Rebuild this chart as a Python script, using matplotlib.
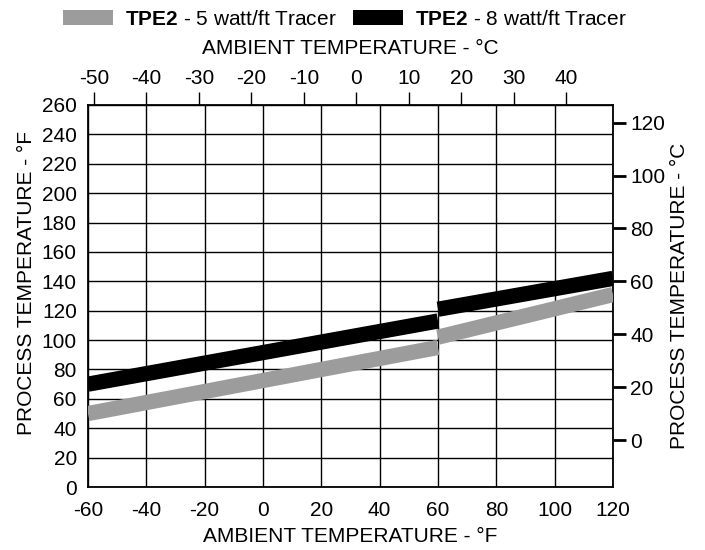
import matplotlib
matplotlib.use("Agg")
import matplotlib.pyplot as plt
from matplotlib.patches import Patch

plt.rcParams['font.family'] = ['Liberation Sans', 'DejaVu Sans']
plt.rcParams['mathtext.fontset'] = 'custom'
plt.rcParams['mathtext.rm'] = 'Liberation Sans'
plt.rcParams['mathtext.bf'] = 'Liberation Sans:bold'
plt.rcParams['axes.unicode_minus'] = False

# ambient temperature (F) at the ends of each segment
amb_lo = [-60, 60]
amb_hi = [60, 120]

# process temperature (F), 5 watt/ft tracer
tpe5_lo = [50, 95]
tpe5_hi = [102, 131]

# process temperature (F), 8 watt/ft tracer
tpe8_lo = [70, 113]
tpe8_hi = [121, 142]

x_ticks_f = list(range(-60, 121, 20))
y_ticks_f = list(range(0, 261, 20))
x_ticks_c = list(range(-50, 41, 10))
y_ticks_c = list(range(0, 121, 20))

legend_labels = [r'$\bf{TPE2}$ - 5 watt/ft Tracer', r'$\bf{TPE2}$ - 8 watt/ft Tracer']
GRAY = '#9c9c9c'
FS = 15


def f2c(f):
    return (f - 32) * 5.0 / 9.0


def c2f(c):
    return c * 9.0 / 5.0 + 32


fig = plt.figure(figsize=(7.05, 5.5), dpi=100)
ax = fig.add_axes([0.1248, 0.1145, 0.8695 - 0.1248, 0.8091 - 0.1145])

ax.plot(amb_lo, tpe5_lo, color=GRAY, lw=11, solid_capstyle='butt', zorder=3)
ax.plot(amb_hi, tpe5_hi, color=GRAY, lw=11, solid_capstyle='butt', zorder=3)
ax.plot(amb_lo, tpe8_lo, color='black', lw=11, solid_capstyle='butt', zorder=4)
ax.plot(amb_hi, tpe8_hi, color='black', lw=11, solid_capstyle='butt', zorder=4)

ax.set_xlim(-60, 120)
ax.set_ylim(0, 260)
ax.set_xticks(x_ticks_f)
ax.set_yticks(y_ticks_f)
ax.grid(True, color='black', lw=1.0)
ax.set_axisbelow(True)
for s in ax.spines.values():
    s.set_linewidth(1.3)
ax.tick_params(axis='x', length=0, pad=10, labelsize=FS)
ax.tick_params(axis='y', length=0, pad=8, labelsize=FS)

# Celsius scales
top = ax.secondary_xaxis('top', functions=(f2c, c2f))
top.set_xticks(x_ticks_c)
top.tick_params(direction='out', length=9.5, width=1.0, pad=3, labelsize=FS)
top.spines['top'].set_visible(False)

right = ax.secondary_yaxis('right', functions=(f2c, c2f))
right.set_yticks(y_ticks_c)
right.tick_params(direction='out', length=9.5, width=2.0, pad=3, labelsize=FS)
right.spines['right'].set_visible(False)

fig.text(0.497, 0.0245, 'AMBIENT TEMPERATURE - °F', ha='center', va='center', fontsize=FS)
fig.text(0.497, 0.9127, 'AMBIENT TEMPERATURE - °C', ha='center', va='center', fontsize=FS)
fig.text(0.037, 0.486, 'PROCESS TEMPERATURE - °F', ha='center', va='center',
         rotation=90, fontsize=FS)
fig.text(0.9645, 0.462, 'PROCESS TEMPERATURE - °C', ha='center', va='center',
         rotation=90, fontsize=FS)

handles = [Patch(facecolor=GRAY, edgecolor='none'), Patch(facecolor='black', edgecolor='none')]
fig.legend(handles, legend_labels, loc='center', bbox_to_anchor=(0.489, 0.965), ncol=2,
           frameon=False, fontsize=15, handlelength=2.4, handleheight=0.75,
           handletextpad=0.55, columnspacing=0.8, borderpad=0, borderaxespad=0)

fig.savefig('out.png', dpi=100)
